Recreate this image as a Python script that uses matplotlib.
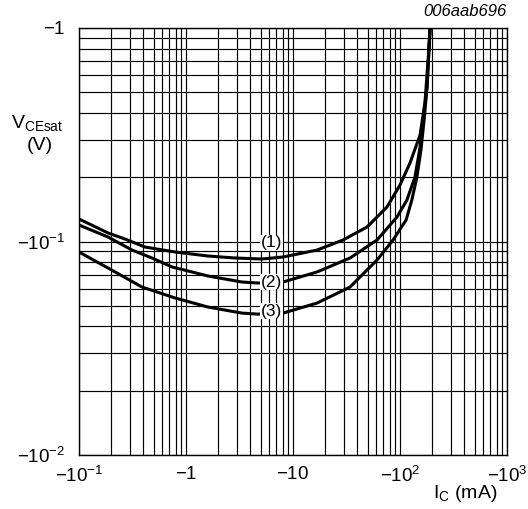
import matplotlib
matplotlib.use("Agg")
import matplotlib.pyplot as plt
from matplotlib.ticker import FixedLocator, NullFormatter, LogLocator

plt.rcParams['font.family'] = ['Liberation Sans', 'DejaVu Sans']
plt.rcParams['mathtext.fontset'] = 'custom'
plt.rcParams['mathtext.rm'] = 'Liberation Sans'
plt.rcParams['mathtext.it'] = 'Liberation Sans:italic'

# collector current magnitude (mA) and V_CEsat magnitude (V)
ic_1 = [0.1, 0.187, 0.269, 0.414, 0.789, 1.61, 2.87, 5.13, 8.07, 16.8, 29.3,
        49.2, 75.6, 100, 124, 154, 171, 183, 191]
vce_1 = [0.1275, 0.1096, 0.1027, 0.0942, 0.0893, 0.0855, 0.0837, 0.0828, 0.0846,
         0.0912, 0.1016, 0.1169, 0.1451, 0.1839, 0.2332, 0.3154, 0.4454, 0.7082, 1.0]

ic_2 = [0.1, 0.187, 0.313, 0.481, 0.740, 1.61, 3.34, 4.71, 8.07, 16.8, 34.1,
        61.0, 93.8, 116, 138, 154, 164, 179, 191]
vce_2 = [0.1195, 0.1049, 0.0912, 0.0837, 0.0760, 0.0689, 0.0646, 0.0639, 0.0646,
         0.0720, 0.0837, 0.1016, 0.1303, 0.1564, 0.2005, 0.2771, 0.3708, 0.5292, 1.0]

ic_3 = [0.1, 0.187, 0.388, 0.789, 1.61, 3.34, 4.71, 8.07, 16.8, 34.1, 61.0,
        86.1, 114, 129, 144, 157, 168, 179, 191]
vce_3 = [0.0893, 0.0751, 0.0612, 0.0544, 0.0493, 0.0462, 0.0457, 0.0462, 0.0515,
         0.0612, 0.0819, 0.1016, 0.1261, 0.1564, 0.2005, 0.2683, 0.3708, 0.5292, 1.0]

curve_labels = ["(1)", "(2)", "(3)"]
label_x = 6.3
label_y = [0.0984, 0.0644, 0.0472]

x_ticks = [0.1, 1, 10, 100, 1000]
x_ticklabels = [r"$-10^{-1}$", r"$-1$", r"$-10$", r"$-10^{2}$", r"$-10^{3}$"]
y_ticks = [0.01, 0.1, 1]
y_ticklabels = [r"$-10^{-2}$", r"$-10^{-1}$", r"$-1$"]

fig = plt.figure(figsize=(5.28, 5.09), dpi=100)
ax = fig.add_axes([79 / 528, 54 / 509, 428 / 528, 427 / 509])

ax.set_xscale("log")
ax.set_yscale("log")
ax.set_xlim(0.1, 1000)
ax.set_ylim(0.01, 1)

for xs, ys in [(ic_1, vce_1), (ic_2, vce_2), (ic_3, vce_3)]:
    ax.plot(xs, ys, color="black", lw=2.2, solid_joinstyle="round", zorder=3)

for lab, ly in zip(curve_labels, label_y):
    ax.text(label_x, ly, lab, ha="center", va="center", fontsize=12.5, zorder=4,
            bbox=dict(facecolor="white", edgecolor="none", pad=0.5))

ax.xaxis.set_major_locator(FixedLocator(x_ticks))
ax.set_xticklabels(x_ticklabels)
ax.yaxis.set_major_locator(FixedLocator(y_ticks))
ax.set_yticklabels(y_ticklabels)
ax.xaxis.set_minor_locator(LogLocator(base=10, subs=range(2, 10)))
ax.yaxis.set_minor_locator(LogLocator(base=10, subs=range(2, 10)))
ax.xaxis.set_minor_formatter(NullFormatter())
ax.yaxis.set_minor_formatter(NullFormatter())

ax.grid(True, which="both", color="black", lw=0.85)
ax.tick_params(which="both", length=0, labelsize=13.5)
ax.tick_params(axis="x", pad=8)
ax.tick_params(axis="y", pad=10)
for s in ax.spines.values():
    s.set_linewidth(1.0)

fig.text(37 / 528, 1 - 123 / 509, "V$_{\\mathrm{CEsat}}$", ha="center", va="center",
         fontsize=14)
fig.text(40 / 528, 1 - 145 / 509, "(V)", ha="center", va="center", fontsize=14)
fig.text(465 / 528, 1 - 494 / 509, "I$_{\\mathrm{C}}$ (mA)", ha="center", va="center",
         fontsize=14)
fig.text(507 / 528, 1 - 12 / 509, "006aab696", ha="right", va="center",
         fontsize=12, style="italic")

fig.savefig("out.png", dpi=100)
